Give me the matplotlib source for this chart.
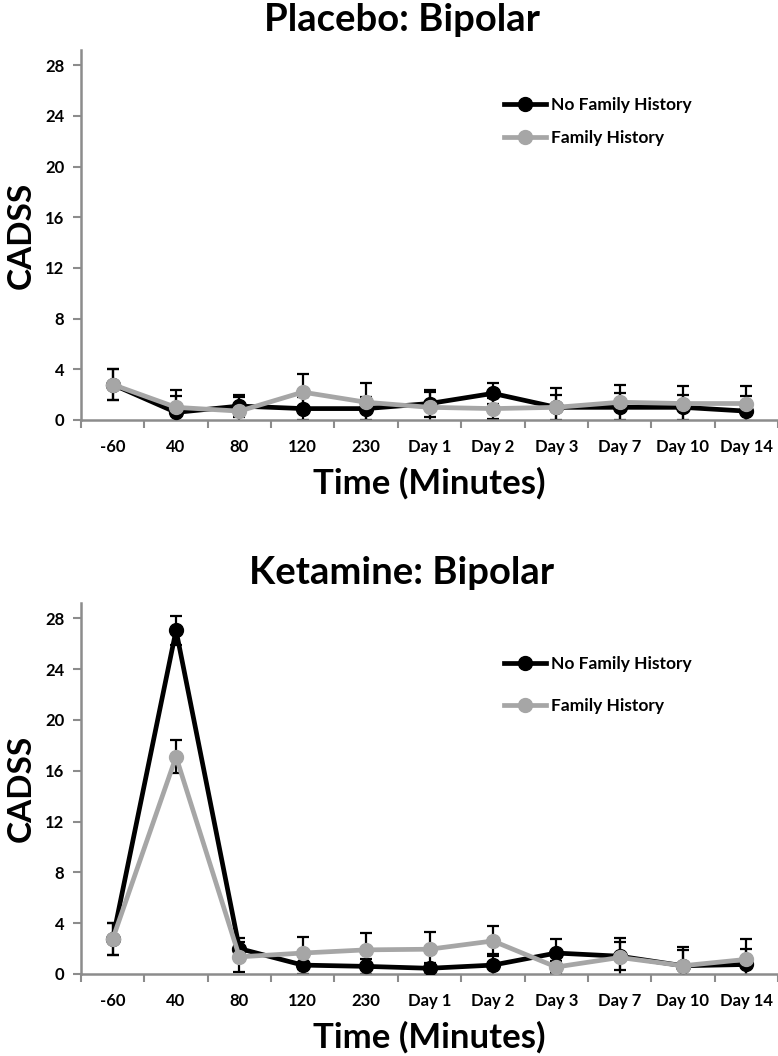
import matplotlib
matplotlib.use("Agg")
import matplotlib.pyplot as plt
from matplotlib.ticker import FixedLocator

plt.rcParams['font.family'] = ['Lato', 'DejaVu Sans']
plt.rcParams['font.weight'] = 'bold'

time_labels = ["-60", "40", "80", "120", "230", "Day 1", "Day 2", "Day 3",
               "Day 7", "Day 10", "Day 14"]

# Placebo: Bipolar
placebo_nfh = [2.8, 0.6, 1.1, 0.9, 0.9, 1.3, 2.1, 1.0, 1.0, 1.0, 0.7]
placebo_nfh_err = [1.2, 1.3, 0.9, 0.9, 0.9, 1.1, 0.8, 1.0, 1.1, 1.0, 1.2]
placebo_fh = [2.8, 1.0, 0.7, 2.2, 1.4, 1.0, 0.9, 1.0, 1.4, 1.3, 1.3]
placebo_fh_err = [1.2, 1.4, 1.1, 1.4, 1.5, 1.2, 0.8, 1.5, 1.4, 1.4, 1.4]

# Ketamine: Bipolar
ketamine_nfh = [2.75, 27.05, 2.0, 0.7, 0.6, 0.45, 0.7, 1.65, 1.4, 0.65, 0.75]
ketamine_nfh_err = [1.25, 1.15, 0.8, 0.7, 0.6, 0.45, 0.9, 1.1, 1.1, 1.25, 1.2]
ketamine_fh = [2.75, 17.1, 1.35, 1.65, 1.9, 1.95, 2.6, 0.55, 1.3, 0.65, 1.15]
ketamine_fh_err = [1.25, 1.3, 1.2, 1.25, 1.3, 1.35, 1.15, 0.5, 1.5, 1.45, 1.6]

black = "#000000"
grey = "#a6a6a6"
spine_grey = "#8c8c8c"


def draw_panel(ax, title, nfh, nfh_err, fh, fh_err, title_y, legend_y, legend_gap):
    x = range(len(time_labels))

    ax.errorbar(x, nfh, yerr=nfh_err, fmt="none", ecolor=black,
                elinewidth=1.6, capsize=4.5, capthick=1.6, zorder=2)
    ax.errorbar(x, fh, yerr=fh_err, fmt="none", ecolor=black,
                elinewidth=1.6, capsize=4.5, capthick=1.6, zorder=2)
    ax.plot(x, nfh, color=black, lw=3.4, marker="o", markersize=10,
            label="No Family History", zorder=3)
    ax.plot(x, fh, color=grey, lw=3.4, marker="o", markersize=10,
            label="Family History", zorder=4)

    ax.set_xlim(-0.5, len(time_labels) - 0.5)
    ax.set_ylim(0, 29.2)
    ax.set_yticks(range(0, 29, 4))
    ax.set_xticks(list(x))
    ax.set_xticklabels(time_labels)
    ax.xaxis.set_minor_locator(FixedLocator([i - 0.5 for i in range(len(time_labels) + 1)]))
    ax.tick_params(axis="x", which="major", length=0, pad=14, labelsize=12)
    ax.tick_params(axis="x", which="minor", length=6, width=1.5, color=spine_grey)
    ax.tick_params(axis="y", length=6, width=1.5, color=spine_grey, pad=6, labelsize=12)

    for side in ["top", "right"]:
        ax.spines[side].set_visible(False)
    for side in ["left", "bottom"]:
        ax.spines[side].set_color(spine_grey)
        ax.spines[side].set_linewidth(1.8)

    ax.set_ylabel("CADSS", fontsize=24, fontweight="bold", labelpad=7)
    ax.set_xlabel("Time (Minutes)", fontsize=25, fontweight="bold", labelpad=8)

    fig.text(402 / 778, title_y, title, fontsize=27.5, fontweight="bold",
             ha="center", va="center")

    leg = ax.legend(loc="upper left", bbox_to_anchor=(0.585, legend_y),
                    frameon=False, fontsize=12.5, handlelength=2.4,
                    handletextpad=0.3, labelspacing=legend_gap)
    return leg


fig = plt.figure(figsize=(7.78, 10.56), dpi=100)
ax_top = fig.add_axes([81 / 778, 1 - 420 / 1056, 697 / 778, 370 / 1056])
ax_bot = fig.add_axes([81 / 778, 1 - 974 / 1056, 697 / 778, 371 / 1056])

draw_panel(ax_top, "Placebo: Bipolar", placebo_nfh, placebo_nfh_err,
           placebo_fh, placebo_fh_err, 1 - 20 / 1056, 0.915, 1.0)
draw_panel(ax_bot, "Ketamine: Bipolar", ketamine_nfh, ketamine_nfh_err,
           ketamine_fh, ketamine_fh_err, 1 - 573 / 1056, 0.9, 1.5)

fig.savefig("out.png", dpi=100)
